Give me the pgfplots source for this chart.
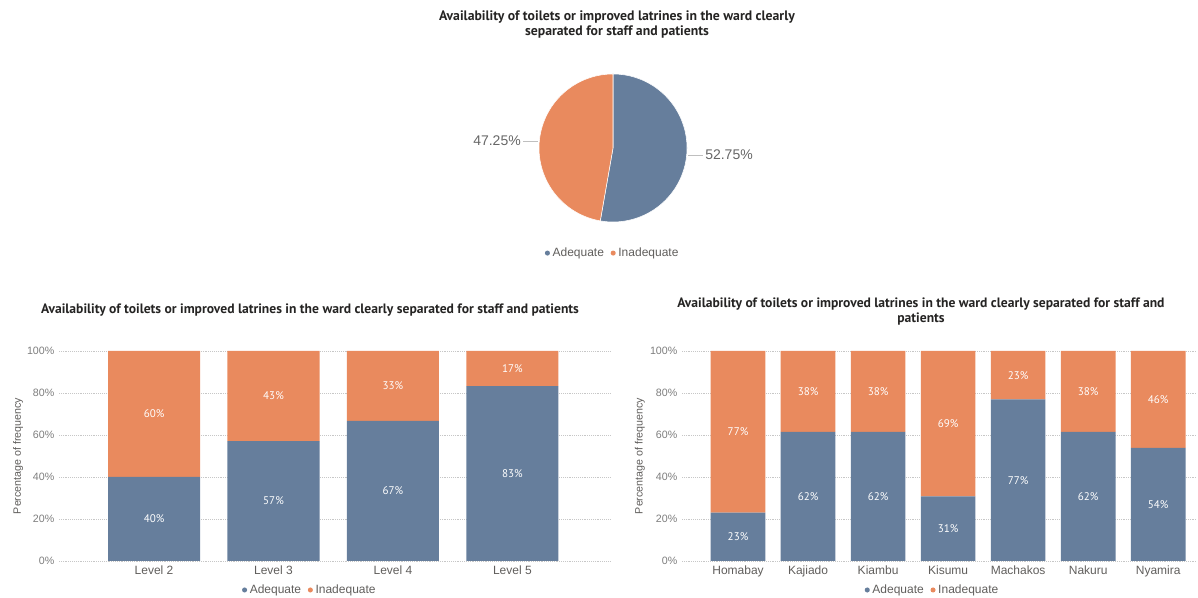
\documentclass[border=0pt]{standalone}
\usepackage{pgfplots}
\pgfplotsset{compat=1.18}
\usepackage{pgfplotstable}
\usepackage{fontspec}
\setmainfont{Liberation Sans}
\newfontfamily\titlefont{PT Sans}
\definecolor{adeq}{RGB}{102,126,156}
\definecolor{inad}{RGB}{233,138,94}
\definecolor{titlec}{RGB}{37,36,35}
\definecolor{tickc}{RGB}{125,125,125}
\definecolor{labc}{RGB}{96,94,92}

\pgfplotstableread{
x a b
1 40.00 60.00
2 57.14 42.86
3 66.67 33.33
4 83.33 16.67
}\levels

\pgfplotstableread{
x a b
1 23.08 76.92
2 61.54 38.46
3 61.54 38.46
4 30.77 69.23
5 76.92 23.08
6 61.54 38.46
7 53.85 46.15
}\counties

\pgfplotsset{
  barstyle/.style={
    scale only axis, ybar stacked, ymin=0, ymax=100,
    height=157.5pt,
    ytick={0,20,40,60,80,100},
    yticklabel={\pgfmathprintnumber{\tick}\%},
    /pgf/number format/assume math mode=true,
    axis line style={draw=none}, major tick style={draw=none},
    ymajorgrids, grid style={densely dotted, color=black!22, line width=0.6pt},
    yticklabel style={font=\fontsize{8}{9}\selectfont, text=tickc},
    xticklabel style={font=\fontsize{9}{11}\selectfont, text=labc},
    xtick=data,
    ylabel={Percentage of frequency},
    ylabel style={font=\fontsize{8}{9}\selectfont, text=labc, anchor=center},
    point meta=explicit,
    nodes near coords={\pgfmathprintnumber[fixed,precision=0]{\pgfplotspointmeta}\%},
    every node near coord/.append style={font=\titlefont\fontsize{8.3}{9}\selectfont, text=white, anchor=center},
    legend columns=-1,
    legend style={draw=none, fill=none, anchor=center, font=\fontsize{9}{11}\selectfont, text=labc,
      /tikz/every even column/.append style={column sep=3pt}, inner sep=0pt},
    legend image code/.code={\fill (1pt,0pt) circle (1.9pt);},
  }
}

\begin{document}
\begin{tikzpicture}
\useasboundingbox (0,0) rectangle (898.5pt,448.5pt);

% ---------- pie ----------
\node[font=\titlefont\bfseries\fontsize{10.3}{11.3}\selectfont, text=titlec, align=center] at (462.75pt,430.1pt)
  {Availability of toilets or improved latrines in the ward clearly\\separated for staff and patients};

\begin{axis}[at={(459.75pt,337.5pt)}, anchor=center, scale only axis, width=111pt, height=111pt,
  xmin=-1, xmax=1, ymin=-1, ymax=1, hide axis, clip=false,
  legend columns=-1,
  legend style={at={(0.5,-0.21)}, anchor=center, draw=none, fill=none, font=\fontsize{9}{11}\selectfont, text=labc,
    /tikz/every even column/.append style={column sep=3pt}, inner sep=0pt},
  legend image code/.code={\fill[draw=none] (1pt,0pt) circle (1.9pt);}]
\addplot[fill=adeq, draw=white, line width=0.4pt, domain={90-3.6*52.75}:90, samples=150] ({cos(x)},{sin(x)}) -- (axis cs:0,0) -- cycle;
\addlegendentry{Adequate}
\addplot[fill=inad, draw=white, line width=0.4pt, domain=90:{90+3.6*47.25}, samples=150] ({cos(x)},{sin(x)}) -- (axis cs:0,0) -- cycle;
\addlegendentry{Inadequate}
\end{axis}

\draw[black!25, line width=0.6pt] (392.25pt,342.75pt) -- (403.5pt,342.75pt);
\draw[black!25, line width=0.6pt] (516pt,332.25pt) -- (527.25pt,332.25pt);
\node[font=\fontsize{10.5}{12}\selectfont, text=black!60] at (372.75pt,342.75pt) {47.25\%};
\node[font=\fontsize{10.5}{12}\selectfont, text=black!60] at (546.75pt,332.25pt) {52.75\%};

% ---------- left bars ----------
\node[font=\titlefont\bfseries\fontsize{10.2}{11.3}\selectfont, text=titlec, align=center] at (232.5pt,216pt)
  {Availability of toilets or improved latrines in the ward clearly separated for staff and patients};

\begin{axis}[barstyle, at={(44.25pt,27.75pt)}, anchor=south west, width=414pt,
  bar width=69pt, xmin=0.204, xmax=4.826,
  xticklabels={Level 2,Level 3,Level 4,Level 5},
  ylabel style={at={(axis description cs:-0.074,0.5)}},
  legend style={at={(0.455,-0.138)}}]
\addplot[fill=adeq, draw=none] table[x=x, y=a, meta=a] {\levels};
\addlegendentry{Adequate}
\addplot[fill=inad, draw=none] table[x=x, y=b, meta=b] {\levels};
\addlegendentry{Inadequate}
\end{axis}

% ---------- right bars ----------
\node[font=\titlefont\bfseries\fontsize{10.2}{11.3}\selectfont, text=titlec, align=center] at (690.75pt,214.5pt)
  {Availability of toilets or improved latrines in the ward clearly separated for staff and\\patients};

\begin{axis}[barstyle, at={(511.5pt,27.75pt)}, anchor=south west, width=385.5pt,
  bar width=41pt, xmin=0.2, xmax=7.54,
  xticklabels={Homabay,Kajiado,Kiambu,Kisumu,Machakos,Nakuru,Nyamira},
  ylabel style={at={(axis description cs:-0.082,0.5)}},
  legend style={at={(0.488,-0.138)}}]
\addplot[fill=adeq, draw=none] table[x=x, y=a, meta=a] {\counties};
\addlegendentry{Adequate}
\addplot[fill=inad, draw=none] table[x=x, y=b, meta=b] {\counties};
\addlegendentry{Inadequate}
\end{axis}
\end{tikzpicture}
\end{document}
